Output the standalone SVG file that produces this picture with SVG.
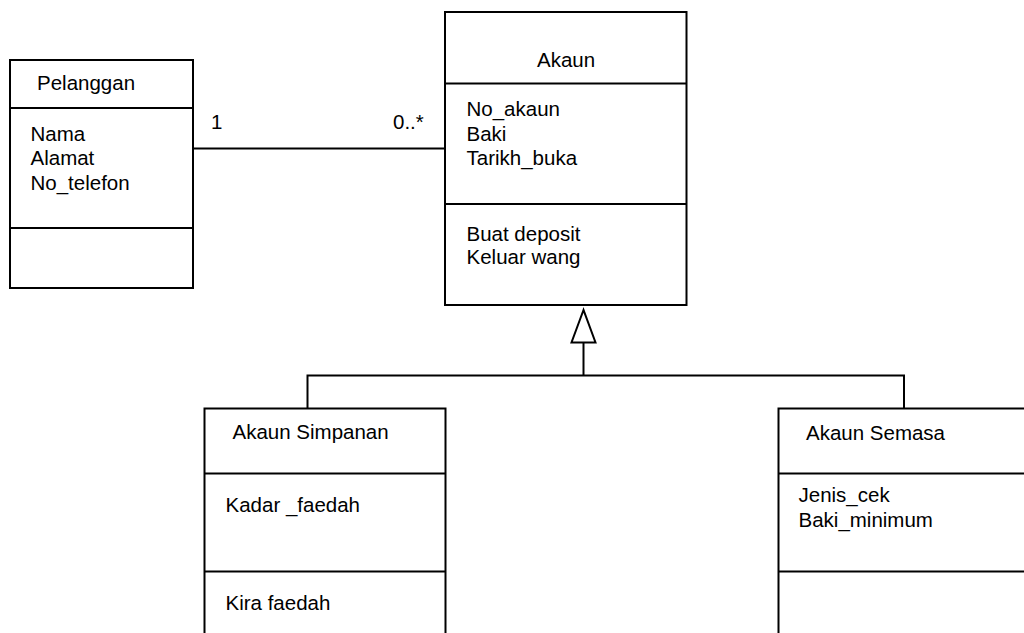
<svg xmlns="http://www.w3.org/2000/svg" width="1024" height="633" viewBox="0 0 1024 633">
<style>
.box{fill:#fff;stroke:#000;stroke-width:2}
.ln{fill:none;stroke:#000;stroke-width:2}
text{font-family:"Liberation Sans",Arial,sans-serif;font-size:20.5px;fill:#000}
</style>
<rect width="1024" height="633" fill="#fff"/>
<g id="connectors">
<line class="ln" x1="193" y1="148.5" x2="445" y2="148.5"/>
<text x="211" y="128.5">1</text>
<text x="393" y="128.5">0..*</text>
<polyline class="ln" points="307.5,408.5 307.5,375.5 904,375.5 904,408.5"/>
<line class="ln" x1="583.5" y1="375.5" x2="583.5" y2="342.5"/>
<polygon class="box" points="583.5,310 571.5,342.5 595.5,342.5"/>
</g>
<g id="pelanggan">
<rect class="box" x="10" y="60" width="183" height="228"/>
<line class="ln" x1="10" y1="108" x2="193" y2="108"/>
<line class="ln" x1="10" y1="228" x2="193" y2="228"/>
<text x="37" y="90">Pelanggan</text>
<text x="30.5" y="140.5">Nama</text>
<text x="30.5" y="165">Alamat</text>
<text x="30.5" y="189.5">No_telefon</text>
</g>
<g id="akaun">
<rect class="box" x="445" y="12" width="241.5" height="293"/>
<line class="ln" x1="445" y1="83.5" x2="686.5" y2="83.5"/>
<line class="ln" x1="445" y1="204" x2="686.5" y2="204"/>
<text x="537" y="67">Akaun</text>
<text x="466.5" y="116">No_akaun</text>
<text x="466.5" y="140.5">Baki</text>
<text x="466.5" y="165">Tarikh_buka</text>
<text x="466.5" y="240.5">Buat deposit</text>
<text x="466.5" y="263.5">Keluar wang</text>
</g>
<g id="akaun-simpanan">
<rect class="box" x="204.5" y="408.5" width="241" height="240"/>
<line class="ln" x1="204.5" y1="473.5" x2="445.5" y2="473.5"/>
<line class="ln" x1="204.5" y1="571.5" x2="445.5" y2="571.5"/>
<text x="232.5" y="438.5">Akaun Simpanan</text>
<text x="225.5" y="512">Kadar _faedah</text>
<text x="225.5" y="610">Kira faedah</text>
</g>
<g id="akaun-semasa">
<rect class="box" x="778.5" y="408.5" width="260" height="240"/>
<line class="ln" x1="778.5" y1="473.5" x2="1024" y2="473.5"/>
<line class="ln" x1="778.5" y1="571.5" x2="1024" y2="571.5"/>
<text x="806" y="439.5">Akaun Semasa</text>
<text x="798.5" y="502">Jenis_cek</text>
<text x="798.5" y="526.5">Baki_minimum</text>
</g>
</svg>
